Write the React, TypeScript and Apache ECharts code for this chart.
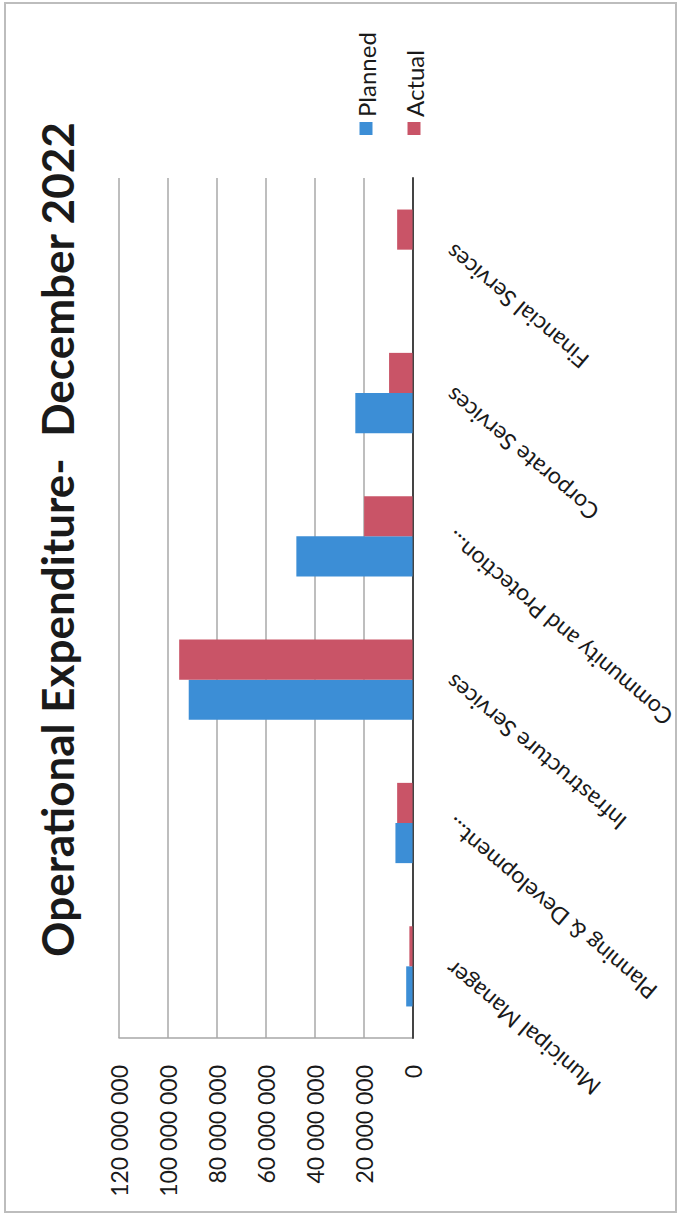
import React, { useEffect, useRef } from "react";
import * as echarts from "echarts";

const categories = [
  "Municipal Manager",
  "Planning & Development...",
  "Infrastructure Services",
  "Community and Protection...",
  "Corporate Services",
  "Financial Services",
];
const planned = [2600000, 7000000, 91500000, 47500000, 23400000, 0];
const actual = [1300000, 6300000, 95400000, 19800000, 9600000, 6300000];
const valueTicks = { min: 0, max: 120000000, interval: 20000000 };
const titleText = "Operational Expenditure-  December 2022";

const FONT = "Lato, 'Liberation Sans', sans-serif";

function fmt(v: number): string {
  return String(v).replace(/\B(?=(\d{3})+(?!\d))/g, " ");
}

export default function App() {
  const ref = useRef<HTMLDivElement>(null);
  useEffect(() => {
    if (!ref.current) return;
    const chart = echarts.init(ref.current, undefined, { renderer: "svg" });
    chart.setOption({
      animation: false,
      backgroundColor: "#ffffff",
      title: {
        text: titleText,
        left: 256,
        top: 30,
        textStyle: { fontFamily: FONT, fontSize: 44, fontWeight: "bold", color: "#1a1a1a" },
      },
      legend: {
        orient: "vertical",
        left: 1078,
        top: 348,
        itemWidth: 13,
        itemHeight: 13,
        itemGap: 22,
        icon: "rect",
        textStyle: { fontFamily: FONT, fontSize: 24, color: "#1a1a1a", lineHeight: 26 },
        data: ["Planned", "Actual"],
      },
      grid: { left: 180, right: 178, top: 119, bottom: 257, containLabel: false },
      xAxis: {
        type: "category",
        data: categories,
        axisLine: { show: true, lineStyle: { color: "#444", width: 2 } },
        axisTick: { show: false },
        axisLabel: {
          interval: 0,
          rotate: 50,
          margin: 36,
          fontFamily: FONT,
          fontSize: 23,
          color: "#1a1a1a",
        },
      },
      yAxis: {
        type: "value",
        min: valueTicks.min,
        max: valueTicks.max,
        interval: valueTicks.interval,
        axisLine: { show: true, lineStyle: { color: "#a8a8a8", width: 1.5 } },
        axisTick: { show: false },
        splitLine: { show: true, lineStyle: { color: "#a8a8a8", width: 1.5 } },
        axisLabel: {
          margin: 27,
          fontFamily: FONT,
          fontSize: 23,
          color: "#1a1a1a",
          formatter: (v: number) => fmt(v),
        },
      },
      series: [
        {
          name: "Planned",
          type: "bar",
          data: planned,
          barGap: "0%",
          barCategoryGap: "44%",
          itemStyle: { color: "#3c8ed6" },
        },
        {
          name: "Actual",
          type: "bar",
          data: actual,
          barGap: "0%",
          barCategoryGap: "44%",
          itemStyle: { color: "#c95467" },
        },
      ],
      graphic: [
        {
          type: "rect",
          shape: { x: 6, y: 5, width: 1209, height: 671 },
          style: { fill: "none", stroke: "#bdbdbd", lineWidth: 2 },
          silent: true,
        },
      ],
    });
    return () => chart.dispose();
  }, []);

  return (
    <div
      style={{
        position: "fixed",
        left: 0,
        top: 0,
        width: 679,
        height: 1218,
        overflow: "hidden",
        background: "#ffffff",
      }}
    >
      <div
        ref={ref}
        style={{
          position: "absolute",
          left: 0,
          top: 0,
          width: 1218,
          height: 679,
          transformOrigin: "0 0",
          transform: "translateY(1218px) rotate(-90deg)",
        }}
      />
    </div>
  );
}
